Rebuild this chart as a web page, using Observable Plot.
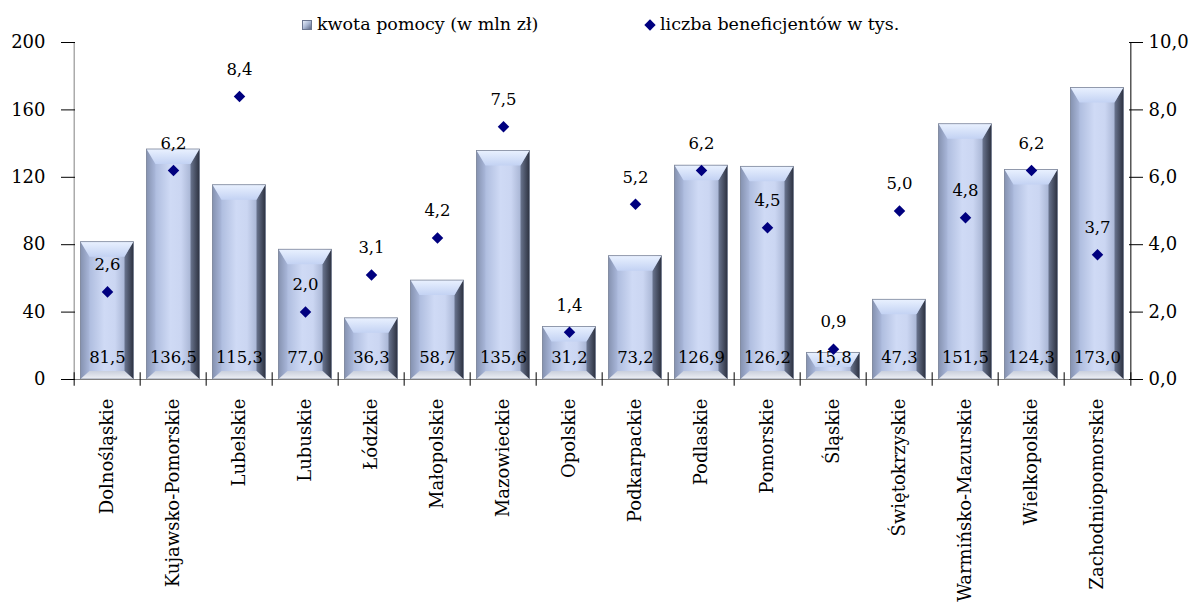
<!DOCTYPE html>
<html><head><meta charset="utf-8">
<script src="https://cdn.jsdelivr.net/npm/d3@7"></script>
<script src="https://cdn.jsdelivr.net/npm/@observablehq/plot@0.6"></script>
<style>
body{margin:0;background:#fff;font-family:"DejaVu Serif",serif;color:#000;}
#legend{height:36px;position:relative;font-size:17.5px;}
#legend .item{position:absolute;top:14px;white-space:nowrap;line-height:20px;}
#legend .sq{display:inline-block;width:10px;height:10px;margin-right:5px;vertical-align:0px;
 background:linear-gradient(135deg,#e6edf9 0%,#a9b7d3 50%,#5f6b86 100%);border:1px solid #6b7690;box-sizing:border-box;}
#legend .dm{display:inline-block;width:8px;height:8px;margin-right:6px;margin-left:2px;background:#00007f;transform:rotate(45deg);vertical-align:1px;}
</style></head><body>
<div id="legend">
 <span class="item" style="left:302px"><span class="sq"></span>kwota pomocy (w mln zł)</span>
 <span class="item" style="left:644px"><span class="dm"></span>liczba beneficjentów w tys.</span>
</div>
<div id="chart"></div>
<script>
const regions = ["Dolnośląskie","Kujawsko-Pomorskie","Lubelskie","Lubuskie","Łódzkie","Małopolskie","Mazowieckie","Opolskie","Podkarpackie","Podlaskie","Pomorskie","Śląskie","Świętokrzyskie","Warmińsko-Mazurskie","Wielkopolskie","Zachodniopomorskie"];
const amounts = [81.5,136.5,115.3,77.0,36.3,58.7,135.6,31.2,73.2,126.9,126.2,15.8,47.3,151.5,124.3,173.0];
const beneficiaries = [2.6,6.2,8.4,2.0,3.1,4.2,7.5,1.4,5.2,6.2,4.5,0.9,5.0,4.8,6.2,3.7];
const leftTicks = [0,40,80,120,160,200];
const rightTicks = [0,2,4,6,8,10];

const leftMax = 200, rightMax = 10, ratio = leftMax / rightMax;
const data = regions.map((r,i)=>({region:r, amount:amounts[i], benef:beneficiaries[i]}));
const W=1202, H=570, mL=68, mR=67, mT=6, mB=227;
const bw=(W-mL-mR)/regions.length;
const fmt = v => v.toFixed(1).replace(".", ",");
const last = regions[regions.length-1];

const plot = Plot.plot({
  width:W, height:H, marginLeft:mL, marginRight:mR, marginTop:mT, marginBottom:mB,
  style:{fontFamily:"DejaVu Serif", fontSize:"16px", color:"#000", background:"transparent", overflow:"visible"},
  x:{domain:regions, padding:0, axis:null},
  y:{domain:[0,leftMax], axis:null},
  marks:[
    Plot.barY(data,{x:"region", y:"amount", fill:"url(#barGrad)", stroke:"none", insetLeft:6.5, insetRight:6.5}),
    Plot.ruleY([0],{stroke:"#808080", strokeWidth:1}),
    Plot.ruleX([regions[0]],{x:d=>d, dx:-bw/2, y1:0, y2:leftMax, stroke:"#808080"}),
    Plot.ruleX([last],{x:d=>d, dx:bw/2, y1:0, y2:leftMax, stroke:"#000"}),
    Plot.ruleX(regions,{x:d=>d, dx:-bw/2, y1:-4, y2:4, stroke:"#000"}),
    Plot.ruleX([last],{x:d=>d, dx:bw/2, y1:-4, y2:4, stroke:"#000"}),
    Plot.axisY({anchor:"left", ticks:leftTicks, tickSize:7, tickPadding:16, label:null, fontSize:18, stroke:"#000"}),
    Plot.axisY({anchor:"left", ticks:leftTicks, tickSize:-7, tickFormat:()=>"", label:null, stroke:"#000"}),
    Plot.axisY({anchor:"right", ticks:rightTicks.map(t=>t*ratio), tickSize:7, tickPadding:6, tickFormat:d=>fmt(d/ratio), label:null, fontSize:18, stroke:"#000"}),
    Plot.axisY({anchor:"right", ticks:rightTicks.map(t=>t*ratio), tickSize:-7, tickFormat:()=>"", label:null, stroke:"#000"}),
    Plot.text(data,{x:"region", y:0, text:d=>fmt(d.amount), dy:-22, fontSize:16.5, fill:"#000"}),
    Plot.dot(data,{x:"region", y:d=>d.benef*ratio, symbol:"diamond2", r:5.2, fill:"#00007f", stroke:"none"}),
    Plot.text(data,{x:"region", y:d=>d.benef*ratio, text:d=>fmt(d.benef), dy:-27, fontSize:16.5, fill:"#000"}),
    Plot.text(regions,{x:d=>d, y:0, text:d=>d, rotate:-90, textAnchor:"end", dy:19, fontSize:18, fill:"#000", lineAnchor:"middle"})
  ]
});
const svg = d3.select(plot);
const defs = svg.insert("defs",":first-child");
function grad(id, horiz, stops){
  const g = defs.append("linearGradient").attr("id",id).attr("x1",0).attr("y1",0)
    .attr("x2",horiz?1:0).attr("y2",horiz?0:1);
  stops.forEach(([o,c])=>g.append("stop").attr("offset",o).attr("stop-color",c));
}
grad("barGrad", true, [["0%","#8d9abb"],["12%","#a9b8db"],["45%","#cfdaf5"],["65%","#cbd6f2"],["85%","#a6b3d2"],["94%","#6f7a95"],["100%","#2f3545"]]);
grad("topGrad", false, [["0%","#e9f1ff"],["100%","#c3d2f3"]]);
grad("botGrad", false, [["0%","#c9cfdc"],["100%","#eef0f5"]]);
grad("leftGrad", true, [["0%","#8592b0"],["100%","#a9b7da"]]);
grad("rightGrad", true, [["0%","#6a758f"],["100%","#2c3140"]]);
// bevel decoration derived from each rendered bar
svg.selectAll('g[aria-label="bar"] rect').each(function(){
  const r = d3.select(this);
  const x=+r.attr("x"), y=+r.attr("y"), w=+r.attr("width"), h=+r.attr("height");
  const p = d3.select(this.parentNode);
  const bt = Math.min(15, h*0.55), bb = Math.min(8, h*0.3), s = Math.min(9, w/3);
  const poly = (pts, fill) => p.append("polygon").attr("points", pts.map(q=>q.join(",")).join(" ")).attr("fill", fill);
  poly([[x,y],[x+s,y+bt],[x+s,y+h-bb],[x,y+h]], "url(#leftGrad)");
  poly([[x+w,y],[x+w-s,y+bt],[x+w-s,y+h-bb],[x+w,y+h]], "url(#rightGrad)");
  poly([[x,y],[x+w,y],[x+w-s,y+bt],[x+s,y+bt]], "url(#topGrad)");
  poly([[x,y+h],[x+w,y+h],[x+w-s,y+h-bb],[x+s,y+h-bb]], "url(#botGrad)");
  p.append("rect").attr("x",x).attr("y",y).attr("width",w).attr("height",h)
   .attr("fill","none").attr("stroke","#7d869a").attr("stroke-width",0.8);
});
document.getElementById("chart").appendChild(plot);
</script>
</body></html>
